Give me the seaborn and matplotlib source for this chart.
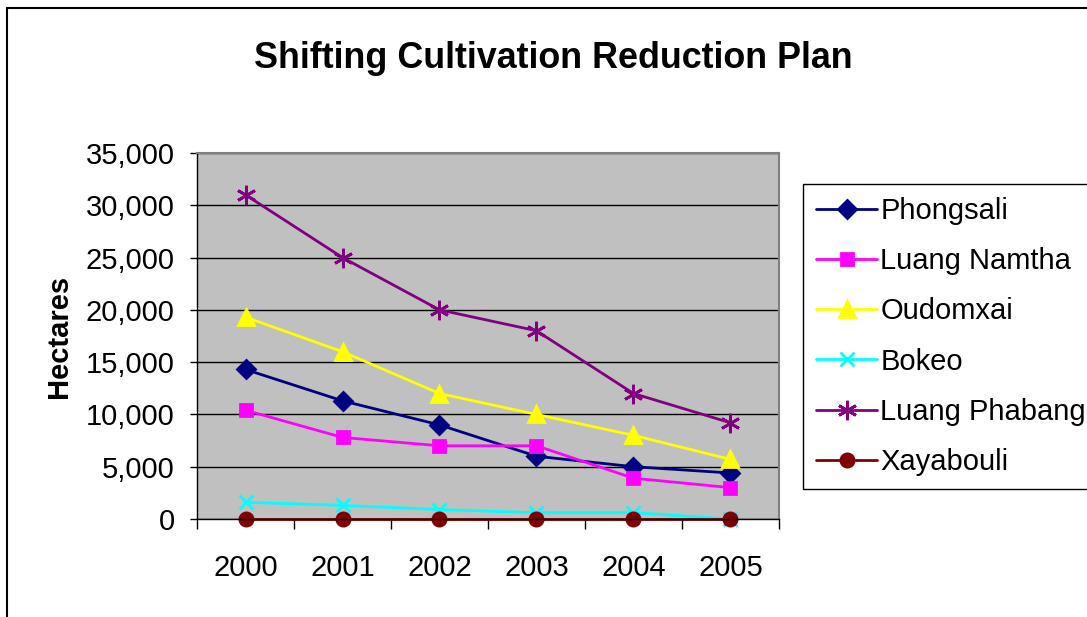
import numpy as np
import pandas as pd
import seaborn as sns
import matplotlib.pyplot as plt
from matplotlib.patches import Rectangle
from matplotlib.ticker import FuncFormatter, FixedLocator

years = ['2000', '2001', '2002', '2003', '2004', '2005']
phongsali = [14300, 11300, 9000, 6000, 5000, 4400]
luang_namtha = [10400, 7800, 7000, 7000, 3900, 3000]
oudomxai = [19300, 16000, 12000, 10000, 8000, 5700]
bokeo = [1600, 1300, 900, 600, 600, 0]
luang_phabang = [31000, 25000, 20000, 18000, 12000, 9200]
xayabouli = [0, 0, 0, 0, 0, 0]

series = {
    'Phongsali': phongsali,
    'Luang Namtha': luang_namtha,
    'Oudomxai': oudomxai,
    'Bokeo': bokeo,
    'Luang Phabang': luang_phabang,
    'Xayabouli': xayabouli,
}
colors = {'Phongsali': '#000080', 'Luang Namtha': '#FF00FF', 'Oudomxai': '#FFFF00',
          'Bokeo': '#00FFFF', 'Luang Phabang': '#800080', 'Xayabouli': '#800000'}
markers = {'Phongsali': ('D', 9.5), 'Luang Namtha': ('s', 9), 'Oudomxai': ('^', 11),
           'Bokeo': ('x', 10), 'Luang Phabang': ((6, 2, 0), 14), 'Xayabouli': ('o', 9.5)}

sns.set_style('white')
plt.rcParams['font.family'] = ['Liberation Sans', 'DejaVu Sans']
plt.rcParams['text.color'] = 'black'
plt.rcParams['xtick.color'] = 'black'
plt.rcParams['ytick.color'] = 'black'
plt.rcParams['axes.labelcolor'] = 'black'

fig = plt.figure(figsize=(10.87, 6.17), dpi=100)
ax = fig.add_axes([197 / 1087, 1 - 519 / 617, 582 / 1087, 366 / 617])
ax.set_facecolor('#C0C0C0')

for name, vals in series.items():
    df = pd.DataFrame({'Year': years, 'Hectares': vals})
    m, ms = markers[name]
    sns.lineplot(data=df, x='Year', y='Hectares', ax=ax, color=colors[name], label=name,
                 marker=m, markersize=ms, markeredgecolor=colors[name], markeredgewidth=2,
                 linewidth=2, clip_on=False)

ax.set_xlim(-0.5, 5.5)
ax.set_ylim(0, 35000)
ax.set_yticks(np.arange(0, 35001, 5000))
ax.yaxis.set_major_formatter(FuncFormatter(lambda v, p: f'{int(v):,}'))
ax.xaxis.set_minor_locator(FixedLocator(np.arange(-0.5, 5.6, 1)))
ax.grid(axis='y', color='black', linewidth=1)
ax.set_axisbelow(True)

ax.tick_params(axis='y', which='major', direction='out', length=5, width=1, color='black',
               pad=11, labelsize=21, left=True)
ax.tick_params(axis='x', which='major', length=0, pad=25, labelsize=21)
ax.tick_params(axis='x', which='minor', direction='out', length=7, width=1, color='black', bottom=True)

for s in ['top', 'right']:
    ax.spines[s].set_color('#808080')
    ax.spines[s].set_linewidth(1.5)
for s in ['left', 'bottom']:
    ax.spines[s].set_color('black')
    ax.spines[s].set_linewidth(1)

ax.set_xlabel('')
ax.set_ylabel('Hectares', fontsize=21, fontweight='bold', labelpad=9)

fig.text(553 / 1087, 1 - 58 / 617, 'Shifting Cultivation Reduction Plan', fontsize=25.8,
         fontweight='bold', ha='center', va='center')

handles, labels = ax.get_legend_handles_labels()
ax.get_legend().remove()
leg = fig.legend(handles, labels, loc='upper left', bbox_to_anchor=(803 / 1087, 1 - 184 / 617),
                 fontsize=21, frameon=True, fancybox=False, edgecolor='black', framealpha=1,
                 handlelength=2.1, handletextpad=0.1, labelspacing=0.76, borderpad=0.45,
                 borderaxespad=0)
leg.get_frame().set_linewidth(1)

fig.add_artist(Rectangle((7 / 1087, -0.1), 1.2, 1.1 - 8 / 617, transform=fig.transFigure,
                         fill=False, edgecolor='black', linewidth=1.5))

fig.savefig('out.png', dpi=100)
